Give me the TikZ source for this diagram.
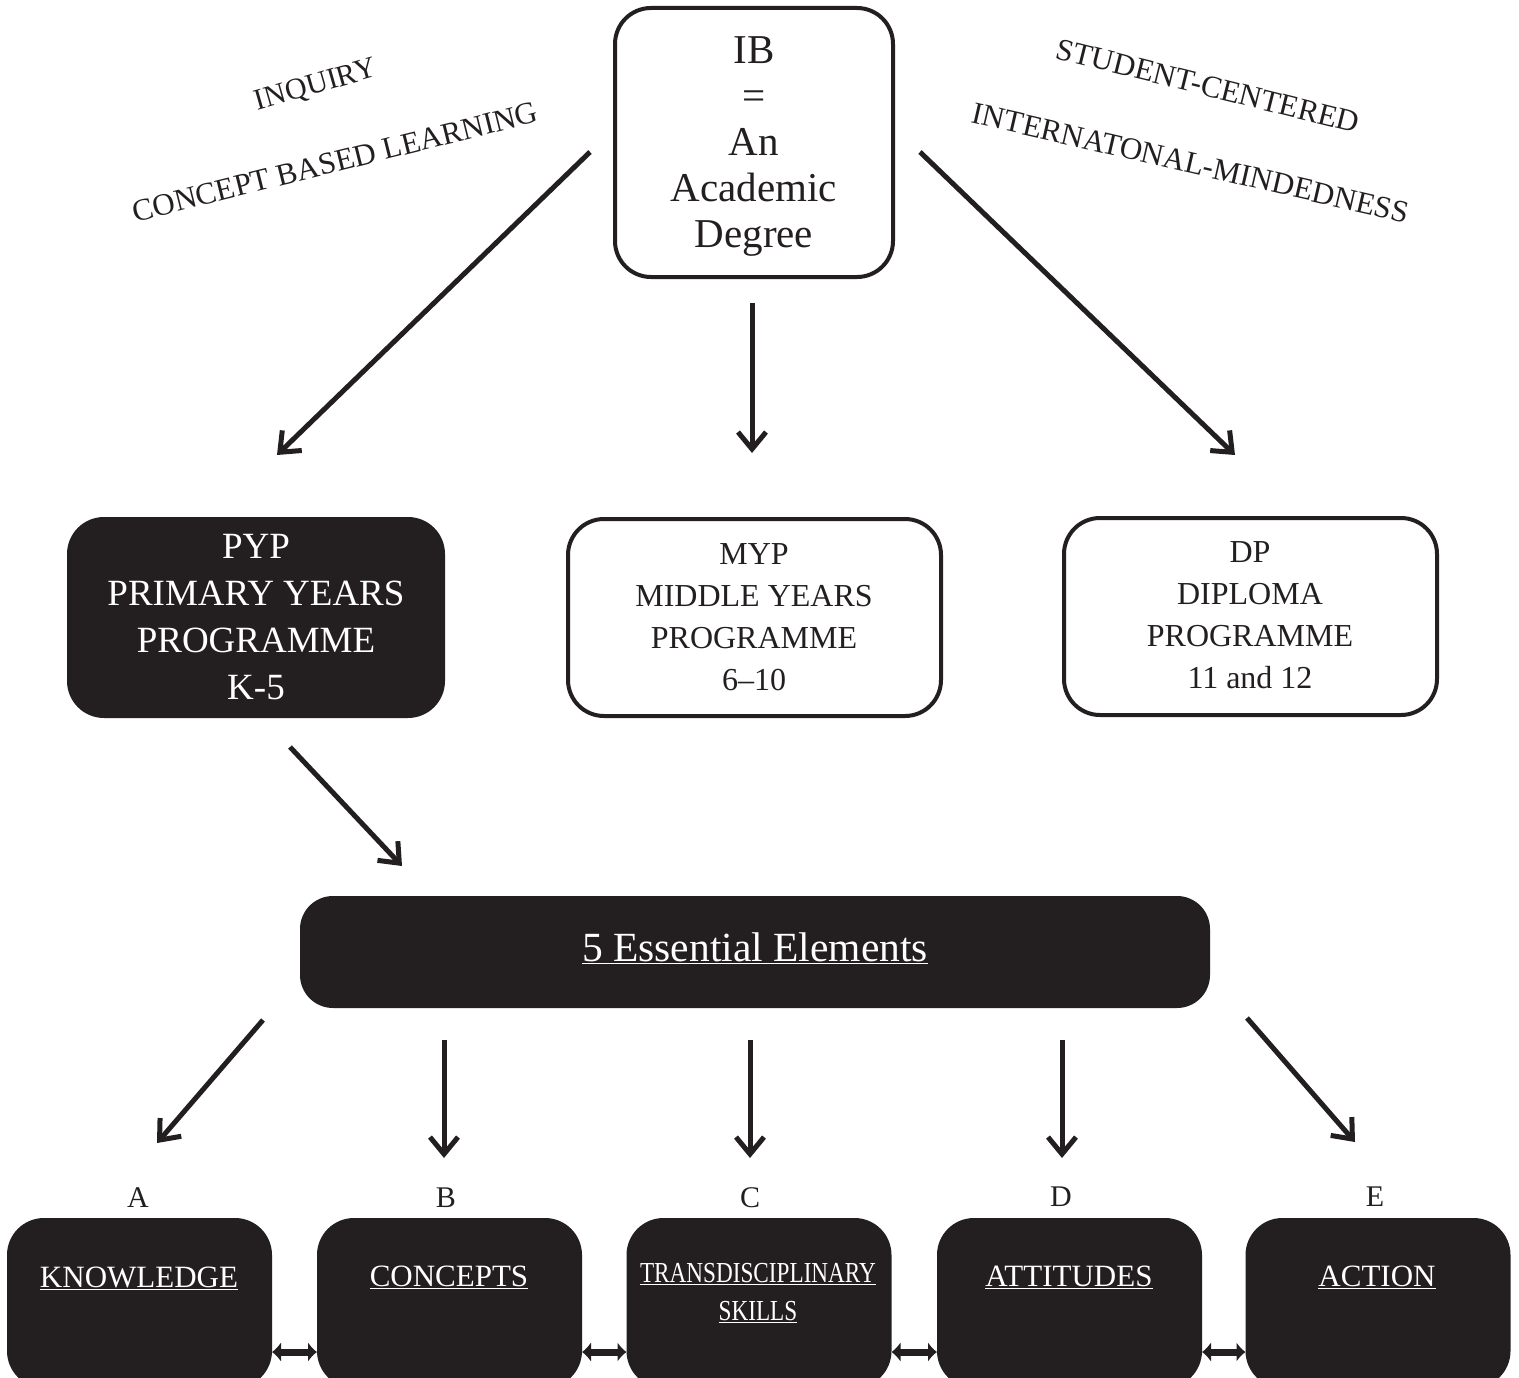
\documentclass[tikz,border=0pt]{standalone}
\usepackage{fontspec}
\setmainfont{Liberation Serif}
\usetikzlibrary{arrows.meta}
\definecolor{ink}{HTML}{231F20}
\tikzset{
  outbox/.style={draw=ink, line width=4pt, rounded corners=36pt, fill=white, inner sep=0pt},
  darkbox/.style={draw=ink, fill=ink, line width=2pt, rounded corners=36pt, inner sep=0pt},
  arr/.style={draw=ink, line width=5pt, -{Straight Barb[length=17pt,width=28pt,line width=5pt]}},
  biarr/.style={draw=ink, line width=7pt, {Latex[length=9pt,width=20pt]}-{Latex[length=9pt,width=20pt]}},
  word/.style={text=ink, inner sep=0pt, align=center},
  wtxt/.style={text=white, inner sep=0pt, align=center},
}
\begin{document}
\begin{tikzpicture}[x=1pt,y=-1pt]
\useasboundingbox[fill=white] (0,0) rectangle (1519,1378);

% top box
\node[outbox, minimum width=278pt, minimum height=269pt] (ib) at (754,142.5) {};
\node[word, font=\fontsize{41}{46}\selectfont] (ibt) at (754,147) {IB\\=\\An\\Academic\\Degree};

% tilted texts
\node[word, rotate=16, font=\fontsize{30}{36}\selectfont] (inq) at (316,86) {INQUIRY};
\node[word, rotate=14, font=\fontsize{31}{36}\selectfont] (cbl) at (335,162) {CONCEPT BASED LEARNING};
\node[word, rotate=-14, font=\fontsize{31}{36}\selectfont] (stc) at (1208,86) {STUDENT-CENTERED};
\node[word, rotate=-13, font=\fontsize{31}{36}\selectfont] (inm) at (1191,163) {INTERNATONAL-MINDEDNESS};

% programme boxes
\node[darkbox, minimum width=376pt, minimum height=199pt] (pyp) at (256,617.5) {};
\node[wtxt, font=\fontsize{37}{47}\selectfont] (pypt) at (256,617) {PYP\\PRIMARY YEARS\\PROGRAMME\\K-5};
\node[outbox, minimum width=373pt, minimum height=197pt] (myp) at (754.5,617.5) {};
\node[word, font=\fontsize{32}{42}\selectfont] (mypt) at (754,617) {MYP\\MIDDLE YEARS\\PROGRAMME\\6--10};
\node[outbox, minimum width=373pt, minimum height=197pt] (dp) at (1250.5,616.5) {};
\node[word, font=\fontsize{32}{42}\selectfont] (dpt) at (1250,615) {DP\\DIPLOMA\\PROGRAMME\\11 and 12};

% arrows from top
\coordinate (l0) at (590,152); \coordinate (l1) at (277,455);
\coordinate (m0) at (752,303); \coordinate (m1) at (752,453);
\coordinate (r0) at (920,152); \coordinate (r1) at (1235,455);
\draw[arr] (l0) -- (l1);
\draw[arr] (m0) -- (m1);
\draw[arr] (r0) -- (r1);

% PYP -> 5 elements
\coordinate (p0) at (290,747); \coordinate (p1) at (402,866);
\draw[arr] (p0) -- (p1);

% 5 essential elements
\node[darkbox, rounded corners=32pt, minimum width=908pt, minimum height=110pt] (ee) at (755,952) {};
\node[wtxt, font=\fontsize{41.5}{48}\selectfont] (eet) at (755,948) {\underline{5 Essential Elements}};

% bottom boxes
\foreach \n/\x in {kn/139.5, co/449.5, tr/759, at/1069.5, ac/1378}{
  \node[darkbox, minimum width=263pt, minimum height=168pt] (\n) at (\x,1303) {};
}
\node[wtxt, font=\fontsize{31}{36}\selectfont] (knt) at (139,1278) {\underline{KNOWLEDGE}};
\node[wtxt, font=\fontsize{31}{36}\selectfont] (cot) at (449,1277) {\underline{CONCEPTS}};
\node[wtxt, font=\fontsize{29}{38}\selectfont] (trt) at (758,1293) {\scalebox{0.8}[1]{\underline{TRANSDISCIPLINARY}}\\\scalebox{0.8}[1]{\underline{SKILLS}}};
\node[wtxt, font=\fontsize{31}{36}\selectfont] (att) at (1069,1277) {\underline{ATTITUDES}};
\node[wtxt, font=\fontsize{31}{36}\selectfont] (act) at (1377,1277) {\underline{ACTION}};

% letters
\node[word, font=\fontsize{30}{36}\selectfont] (la) at (138,1198) {A};
\node[word, font=\fontsize{30}{36}\selectfont] (lb) at (446,1198) {B};
\node[word, font=\fontsize{30}{36}\selectfont] (lc) at (750,1198) {C};
\node[word, font=\fontsize{30}{36}\selectfont] (ld) at (1061,1197) {D};
\node[word, font=\fontsize{30}{36}\selectfont] (le) at (1375,1197) {E};

% arrows from 5 elements
\coordinate (e1s) at (263,1020); \coordinate (e1e) at (157,1143);
\coordinate (e2s) at (444,1040); \coordinate (e2e) at (444,1158);
\coordinate (e3s) at (750,1040); \coordinate (e3e) at (750,1158);
\coordinate (e4s) at (1062,1040); \coordinate (e4e) at (1062,1158);
\coordinate (e5s) at (1247,1018); \coordinate (e5e) at (1355,1142);
\draw[arr] (e1s) -- (e1e);
\draw[arr] (e2s) -- (e2e);
\draw[arr] (e3s) -- (e3e);
\draw[arr] (e4s) -- (e4e);
\draw[arr] (e5s) -- (e5e);

% bottom connectors
\draw[biarr] ([yshift=-49pt]kn.east) -- ([yshift=-49pt]co.west);
\draw[biarr] ([yshift=-49pt]co.east) -- ([yshift=-49pt]tr.west);
\draw[biarr] ([yshift=-49pt]tr.east) -- ([yshift=-49pt]at.west);
\draw[biarr] ([yshift=-49pt]at.east) -- ([yshift=-49pt]ac.west);
\end{tikzpicture}
\end{document}
